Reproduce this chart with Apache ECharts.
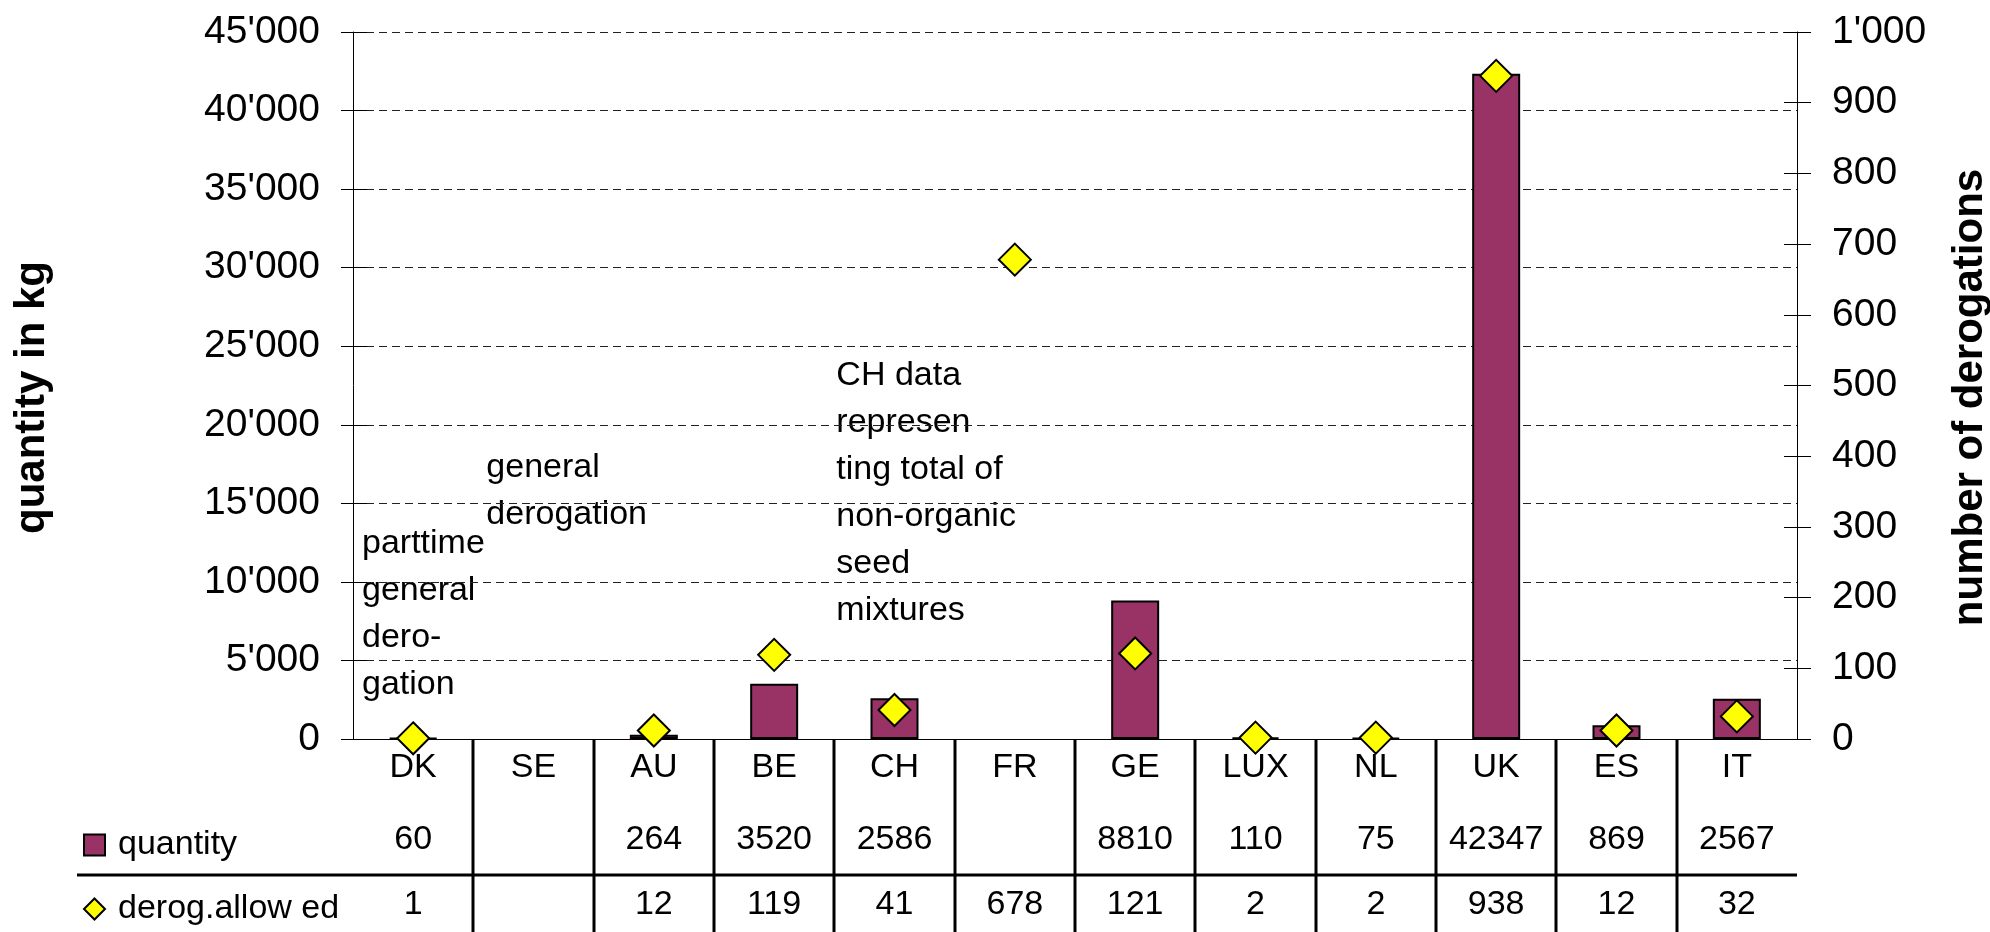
<!DOCTYPE html>
<html>
<head>
<meta charset="utf-8">
<script src="https://cdn.jsdelivr.net/npm/echarts@6.0.0/dist/echarts.min.js"></script>
<style>
  html, body { margin: 0; padding: 0; background: #fff; }
  #chart { width: 1990px; height: 932px; }
</style>
</head>
<body>
<div id="chart"></div>
<script>
  // values
  const countries = ['DK', 'SE', 'AU', 'BE', 'CH', 'FR', 'GE', 'LUX', 'NL', 'UK', 'ES', 'IT']
  const quantity = [60, null, 264, 3520, 2586, null, 8810, 110, 75, 42347, 869, 2567]
  const derogAllowed = [1, null, 12, 119, 41, 678, 121, 2, 2, 938, 12, 32]
  const qtyAxis = { min: 0, max: 45000, interval: 5000 }
  const derogAxis = { min: 0, max: 1000, interval: 100 }

  // free text notes, placed over the plot
  const notes = [
    { cat: 1, dx: 9, top: 520, text: 'parttime\ngeneral\ndero-\ngation' },
    { cat: 2, dx: 13, top: 444, text: 'general\nderogation' },
    { cat: 5, dx: 2, top: 352, text: 'CH data\nrepresen\nting total of\nnon-organic\nseed\nmixtures' }
  ]

  const FONT = '"Liberation Sans", Arial, sans-serif'
  const W = 1990
  const H = 932
  const grid = { left: 353, right: 193, top: 32, bottom: 193 }
  const plotW = W - grid.left - grid.right
  const cellW = plotW / countries.length
  const axisY = H - grid.bottom

  function fmt (v) {
    return String(v).replace(/\B(?=(\d{3})+(?!\d))/g, "'")
  }
  function cell (v) {
    return v === null ? ' ' : String(v)
  }

  // table lines under the x axis
  let graphic = [{
    type: 'line',
    shape: { x1: 77, y1: 875, x2: W - grid.right, y2: 875 },
    style: { stroke: '#000', lineWidth: 3 }
  }]
  for (let k = 1; k < countries.length; k++) {
    let x = Math.round(grid.left + cellW * k)
    graphic.push({
      type: 'line',
      shape: { x1: x, y1: axisY, x2: x, y2: H },
      style: { stroke: '#000', lineWidth: 3 }
    })
  }
  notes.forEach(n => {
    graphic.push({
      type: 'text',
      x: grid.left + cellW * (n.cat - 1) + n.dx,
      y: n.top,
      style: {
        text: n.text,
        font: '34px ' + FONT,
        lineHeight: 47,
        fill: '#000',
        verticalAlign: 'top'
      }
    })
  })

  const tickStyle = { color: '#000', width: 1 }
  const nameStyle = { fontSize: 42, fontWeight: 'bold', fontFamily: FONT, color: '#000', padding: [0, 24, 0, 0] }

  let option = {
    animation: false,
    backgroundColor: '#fff',
    textStyle: { fontFamily: FONT, color: '#000' },
    grid: Object.assign({ outerBoundsMode: 'none', containLabel: false }, grid),
    legend: {
      orient: 'vertical',
      left: 83,
      top: 825,
      padding: 0,
      itemWidth: 21,
      itemHeight: 21,
      itemGap: 24,
      selectedMode: false,
      textStyle: { fontSize: 34, fontFamily: FONT, color: '#000', lineHeight: 40, padding: [0, 0, 0, 8] },
      data: [
        { name: 'quantity', icon: 'rect' },
        { name: 'derog.allow ed', icon: 'diamond' }
      ]
    },
    xAxis: {
      type: 'category',
      data: countries,
      boundaryGap: true,
      axisLine: { lineStyle: { color: '#000', width: 1 } },
      axisTick: { show: false },
      splitLine: { show: false },
      axisLabel: {
        interval: 0,
        margin: 0,
        color: '#000',
        fontSize: 34,
        fontFamily: FONT,
        formatter: (value, i) => '{c|' + value + '}\n{q|' + cell(quantity[i]) + '}\n{d|' + cell(derogAllowed[i]) + '}',
        rich: {
          c: { fontSize: 34, fontFamily: FONT, color: '#000', lineHeight: 58 },
          q: { fontSize: 34, fontFamily: FONT, color: '#000', lineHeight: 86 },
          d: { fontSize: 34, fontFamily: FONT, color: '#000', lineHeight: 44 }
        }
      }
    },
    yAxis: [
      {
        type: 'value',
        position: 'left',
        min: qtyAxis.min,
        max: qtyAxis.max,
        interval: qtyAxis.interval,
        name: 'quantity in kg',
        nameLocation: 'middle',
        nameRotate: 90,
        nameGap: 300,
        nameTextStyle: nameStyle,
        axisLine: { show: true, lineStyle: tickStyle },
        axisTick: { show: true, length: 12, lineStyle: tickStyle },
        axisLabel: { fontSize: 39, fontFamily: FONT, color: '#000', margin: 33, formatter: fmt },
        splitLine: { show: true, lineStyle: { color: '#222', width: 1, type: [8, 5] } }
      },
      {
        type: 'value',
        position: 'right',
        min: derogAxis.min,
        max: derogAxis.max,
        interval: derogAxis.interval,
        name: 'number of derogations',
        nameLocation: 'middle',
        nameRotate: 90,
        nameGap: 152,
        nameTextStyle: nameStyle,
        axisLine: { show: true, lineStyle: tickStyle },
        axisTick: { show: true, length: 14, lineStyle: tickStyle },
        axisLabel: { fontSize: 39, fontFamily: FONT, color: '#000', margin: 35, formatter: fmt },
        splitLine: { show: false }
      },
      // inner halves of the crossing ticks
      {
        type: 'value',
        position: 'left',
        min: qtyAxis.min,
        max: qtyAxis.max,
        interval: qtyAxis.interval,
        axisLine: { show: false },
        axisTick: { show: true, inside: true, length: 14, lineStyle: tickStyle },
        axisLabel: { show: false },
        splitLine: { show: false }
      },
      {
        type: 'value',
        position: 'right',
        min: derogAxis.min,
        max: derogAxis.max,
        interval: derogAxis.interval,
        axisLine: { show: false },
        axisTick: { show: true, inside: true, length: 13, lineStyle: tickStyle },
        axisLabel: { show: false },
        splitLine: { show: false }
      }
    ],
    series: [
      {
        name: 'quantity',
        type: 'bar',
        yAxisIndex: 0,
        barWidth: 48,
        data: quantity,
        itemStyle: { color: '#993366', borderColor: '#000', borderWidth: 2 }
      },
      {
        name: 'derog.allow ed',
        type: 'scatter',
        yAxisIndex: 1,
        symbol: 'diamond',
        symbolSize: 32,
        z: 3,
        data: derogAllowed,
        itemStyle: { color: '#ffff00', borderColor: '#000', borderWidth: 2, opacity: 1 }
      }
    ],
    graphic: graphic
  }

  let chart = echarts.init(document.getElementById('chart'))
  chart.setOption(option)
</script>
</body>
</html>
